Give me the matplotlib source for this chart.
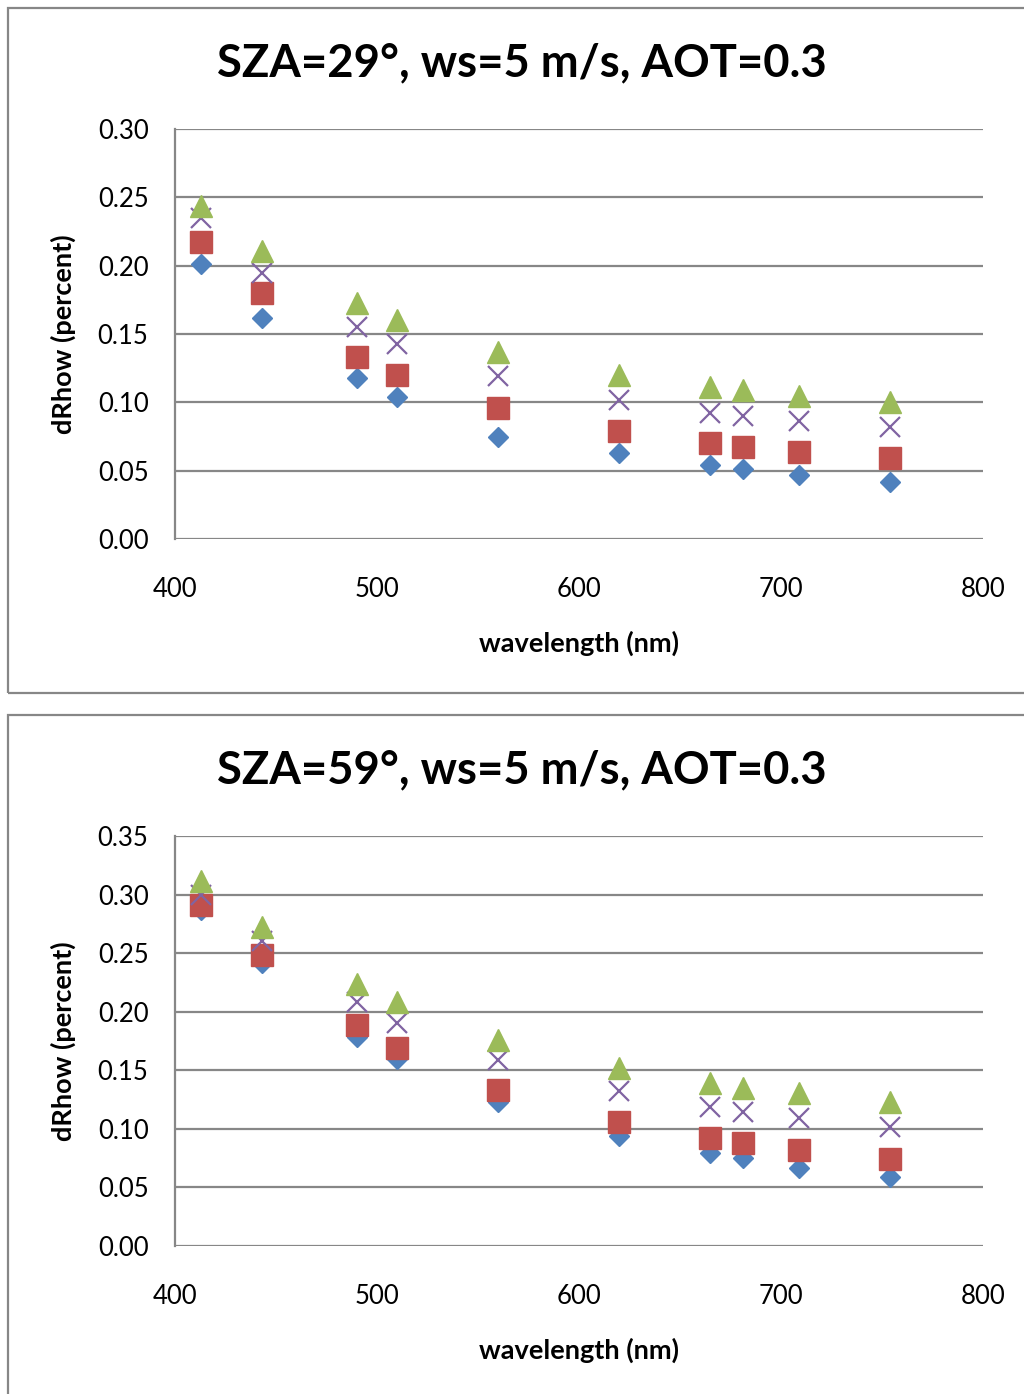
import matplotlib
matplotlib.use("Agg")
import matplotlib.pyplot as plt
from matplotlib.patches import Rectangle

plt.rcParams['font.family'] = ['Lato', 'DejaVu Sans']

# MERIS-like band centres (nm)
wavelength = [413, 443, 490, 510, 560, 620, 665, 681, 709, 754]

# SZA = 29 deg
sza29_s1 = [0.201, 0.162, 0.118, 0.104, 0.075, 0.063, 0.054, 0.051, 0.047, 0.042]
sza29_s2 = [0.217, 0.180, 0.133, 0.120, 0.096, 0.079, 0.070, 0.067, 0.064, 0.059]
sza29_s3 = [0.235, 0.195, 0.155, 0.143, 0.119, 0.102, 0.092, 0.090, 0.086, 0.082]
sza29_s4 = [0.244, 0.211, 0.173, 0.160, 0.137, 0.120, 0.111, 0.109, 0.105, 0.100]

# SZA = 59 deg
sza59_s1 = [0.287, 0.242, 0.178, 0.160, 0.123, 0.094, 0.079, 0.075, 0.067, 0.059]
sza59_s2 = [0.291, 0.248, 0.189, 0.169, 0.133, 0.106, 0.092, 0.088, 0.082, 0.074]
sza59_s3 = [0.300, 0.260, 0.208, 0.190, 0.159, 0.132, 0.119, 0.114, 0.109, 0.102]
sza59_s4 = [0.312, 0.272, 0.224, 0.208, 0.176, 0.152, 0.139, 0.135, 0.131, 0.123]

titles = ['SZA=29°, ws=5 m/s, AOT=0.3', 'SZA=59°, ws=5 m/s, AOT=0.3']
yticks_top = [0.00, 0.05, 0.10, 0.15, 0.20, 0.25, 0.30]
yticks_bot = [0.00, 0.05, 0.10, 0.15, 0.20, 0.25, 0.30, 0.35]
xticks = [400, 500, 600, 700, 800]

W, H = 1024, 1394
GRID = '#878787'
fig = plt.figure(figsize=(W / 100, H / 100), dpi=100)


def px_axes(left, top, right, bottom):
    return fig.add_axes([left / W, 1 - bottom / H, (right - left) / W, (bottom - top) / H])


def draw_panel(ax, series, yticks, title, box_top, box_bottom, title_y, xlabel_y):
    # outer chart frame
    fig.patches.append(Rectangle((8 / W, 1 - box_bottom / H), (W + 10) / W, (box_bottom - box_top) / H,
                                 transform=fig.transFigure, fill=False, edgecolor=GRID, lw=1.6))
    styles = [
        dict(marker='D', color='#4F81BD', ms=10.5),
        dict(marker='s', color='#C0504D', ms=15.5),
        dict(marker='x', color='#8064A2', ms=14, mew=1.6),
        dict(marker='^', color='#9BBB59', ms=15.5),
    ]
    for ys, st in zip(series, styles):
        ax.plot(wavelength, ys, linestyle='none', zorder=3, **st)
    ax.set_xlim(400, 800)
    ax.set_ylim(yticks[0], yticks[-1])
    ax.set_xticks(xticks)
    ax.set_yticks(yticks)
    ax.set_yticklabels([f'{t:.2f}' for t in yticks])
    ax.grid(axis='y', color=GRID, lw=1.6)
    for s in ['top', 'right', 'bottom']:
        ax.spines[s].set_visible(False)
    ax.spines['left'].set_color(GRID)
    ax.spines['left'].set_linewidth(1.6)
    ax.tick_params(length=0, labelsize=18.5)
    ax.tick_params(axis='y', pad=19)
    ax.tick_params(axis='x', pad=27)
    ax.set_axisbelow(True)
    fig.text(522 / W, 1 - title_y / H, title, ha='center', va='center',
             fontsize=32.7, fontweight='bold')
    fig.text(579 / W, 1 - xlabel_y / H, 'wavelength (nm)', ha='center', va='center',
             fontsize=19.5, fontweight='bold')
    axis_mid = (ax.get_position().y0 + ax.get_position().y1) / 2
    fig.text(63 / W, axis_mid, 'dRhow (percent)', ha='center', va='center',
             rotation=90, fontsize=19.5, fontweight='bold')


ax1 = px_axes(175, 129, 983, 539)
draw_panel(ax1, [sza29_s1, sza29_s2, sza29_s3, sza29_s4], yticks_top, titles[0],
           8, 693, 63, 643)

ax2 = px_axes(175, 836, 983, 1246)
draw_panel(ax2, [sza59_s1, sza59_s2, sza59_s3, sza59_s4], yticks_bot, titles[1],
           715, H + 10, 770, 1350)

fig.savefig('out.png', dpi=100)
